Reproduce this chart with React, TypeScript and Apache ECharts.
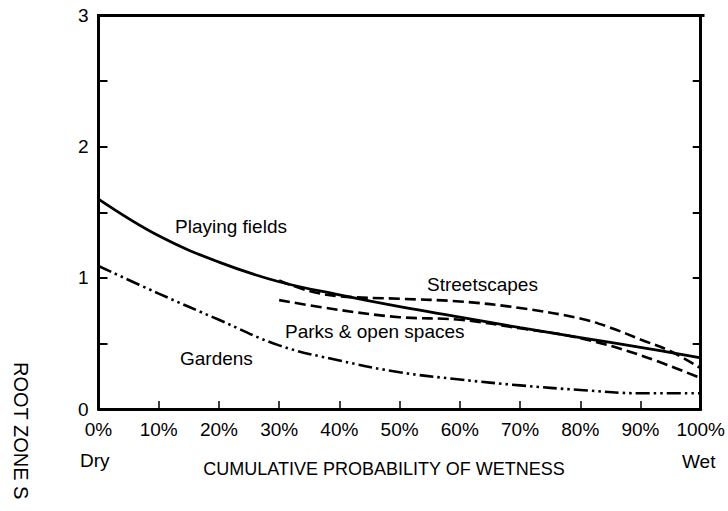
import React, { useEffect, useRef } from "react";
import * as echarts from "echarts";

const xTicks = [0, 10, 20, 30, 40, 50, 60, 70, 80, 90, 100];
const playingX = [0, 10, 20, 30, 40, 50, 60, 70, 80, 90, 100];
const playingY = [1.6, 1.32, 1.12, 0.97, 0.87, 0.78, 0.7, 0.62, 0.545, 0.47, 0.39];
const streetX = [30, 35, 40, 50, 60, 70, 80, 85, 90, 95, 100];
const streetY = [0.98, 0.9, 0.86, 0.84, 0.82, 0.77, 0.69, 0.62, 0.53, 0.44, 0.31];
const parksX = [30, 40, 50, 60, 70, 80, 90, 100];
const parksY = [0.83, 0.755, 0.7, 0.68, 0.615, 0.54, 0.41, 0.235];
const gardensX = [0, 10, 20, 30, 40, 50, 60, 70, 80, 90, 100];
const gardensY = [1.09, 0.88, 0.68, 0.485, 0.37, 0.28, 0.225, 0.18, 0.145, 0.12, 0.12];

const FONT = "Liberation Sans, Arial, sans-serif";
const FS = 19;
const GL = 98.5;
const GR = 25;
const GT = 15.5;
const GB = 102;
const W = 728;
const H = 511;

function pairs(xs: number[], ys: number[]) {
  return xs.map((x, i) => [x, ys[i]]);
}

function label(text: string, x: number, y: number, align = "left", size = FS) {
  return {
    type: "text",
    x,
    y,
    style: {
      text,
      font: `${size}px ${FONT}`,
      fill: "#000",
      textAlign: align,
      textVerticalAlign: "middle",
    },
  };
}

function axisLine(color = "#000") {
  return { show: true, onZero: false, lineStyle: { color, width: 3 } };
}

export default function App() {
  const ref = useRef<HTMLDivElement>(null);
  useEffect(() => {
    document.body.style.margin = "0";
    const chart = echarts.init(ref.current!, null, { renderer: "svg" });
    const lineBase = { type: "line", smooth: 0.4, symbol: "none", silent: true };
    const right = W - GR;
    chart.setOption({
      animation: false,
      grid: { left: GL, right: GR, top: GT, bottom: GB, containLabel: false },
      xAxis: [
        {
          type: "value",
          min: 0,
          max: 100,
          interval: 10,
          position: "bottom",
          axisLine: axisLine(),
          axisTick: { show: true, inside: true, length: 8, lineStyle: { color: "#000", width: 1.5 } },
          axisLabel: {
            formatter: "{value}%",
            color: "#000",
            fontSize: FS,
            fontFamily: FONT,
            margin: 11,
          },
          splitLine: { show: false },
          data: xTicks,
        },
      ],
      yAxis: [
        {
          type: "value",
          min: 0,
          max: 3,
          interval: 0.5,
          position: "left",
          axisLine: axisLine(),
          axisTick: { show: true, inside: true, length: 9, lineStyle: { color: "#000", width: 2 } },
          axisLabel: {
            formatter: (v: number) => (Number.isInteger(v) ? String(v) : ""),
            color: "#000",
            fontSize: FS,
            fontFamily: FONT,
            margin: 10,
          },
          splitLine: { show: false },
        },
        {
          type: "value",
          min: 0,
          max: 3,
          interval: 0.5,
          position: "right",
          axisLine: axisLine(),
          axisTick: { show: true, inside: true, length: 8, lineStyle: { color: "#000", width: 2 } },
          axisLabel: { show: false },
          splitLine: { show: false },
        },
      ],
      series: [
        {
          ...lineBase,
          name: "Playing fields",
          data: pairs(playingX, playingY),
          lineStyle: { color: "#000", width: 2.8, type: "solid" },
        },
        {
          ...lineBase,
          name: "Streetscapes",
          data: pairs(streetX, streetY),
          lineStyle: { color: "#000", width: 2.6, type: [11, 5] },
        },
        {
          ...lineBase,
          name: "Parks & open spaces",
          data: pairs(parksX, parksY),
          lineStyle: { color: "#000", width: 2.6, type: [11, 5] },
        },
        {
          ...lineBase,
          name: "Gardens",
          data: pairs(gardensX, gardensY),
          lineStyle: { color: "#000", width: 2.6, type: [14, 4, 2.5, 4, 2.5, 4] },
        },
      ],
      graphic: [
        {
          type: "rect",
          silent: true,
          z: 100,
          x: GL - 1.5,
          y: GT - 1.5,
          shape: { x: 0, y: 0, width: right - GL + 3, height: 3 },
          style: { fill: "#000" },
        },
        label("Playing fields", 175, 226),
        label("Streetscapes", 427, 284),
        label("Parks & open spaces", 285, 331),
        label("Gardens", 180, 358),
        label("Dry", 80, 460),
        label("Wet", 682, 461),
        label("CUMULATIVE PROBABILITY OF WETNESS", 384, 469, "center", 18),
        {
          type: "text",
          x: 21,
          y: 362,
          rotation: -Math.PI / 2,
          style: {
            text: "ROOT ZONE S",
            font: `20px ${FONT}`,
            fill: "#000",
            textAlign: "left",
            textVerticalAlign: "middle",
          },
        },
      ],
    });
    return () => chart.dispose();
  }, []);
  return (
    <div
      ref={ref}
      style={{ position: "fixed", left: 0, top: 0, width: W, height: H, background: "#fff" }}
    />
  );
}
